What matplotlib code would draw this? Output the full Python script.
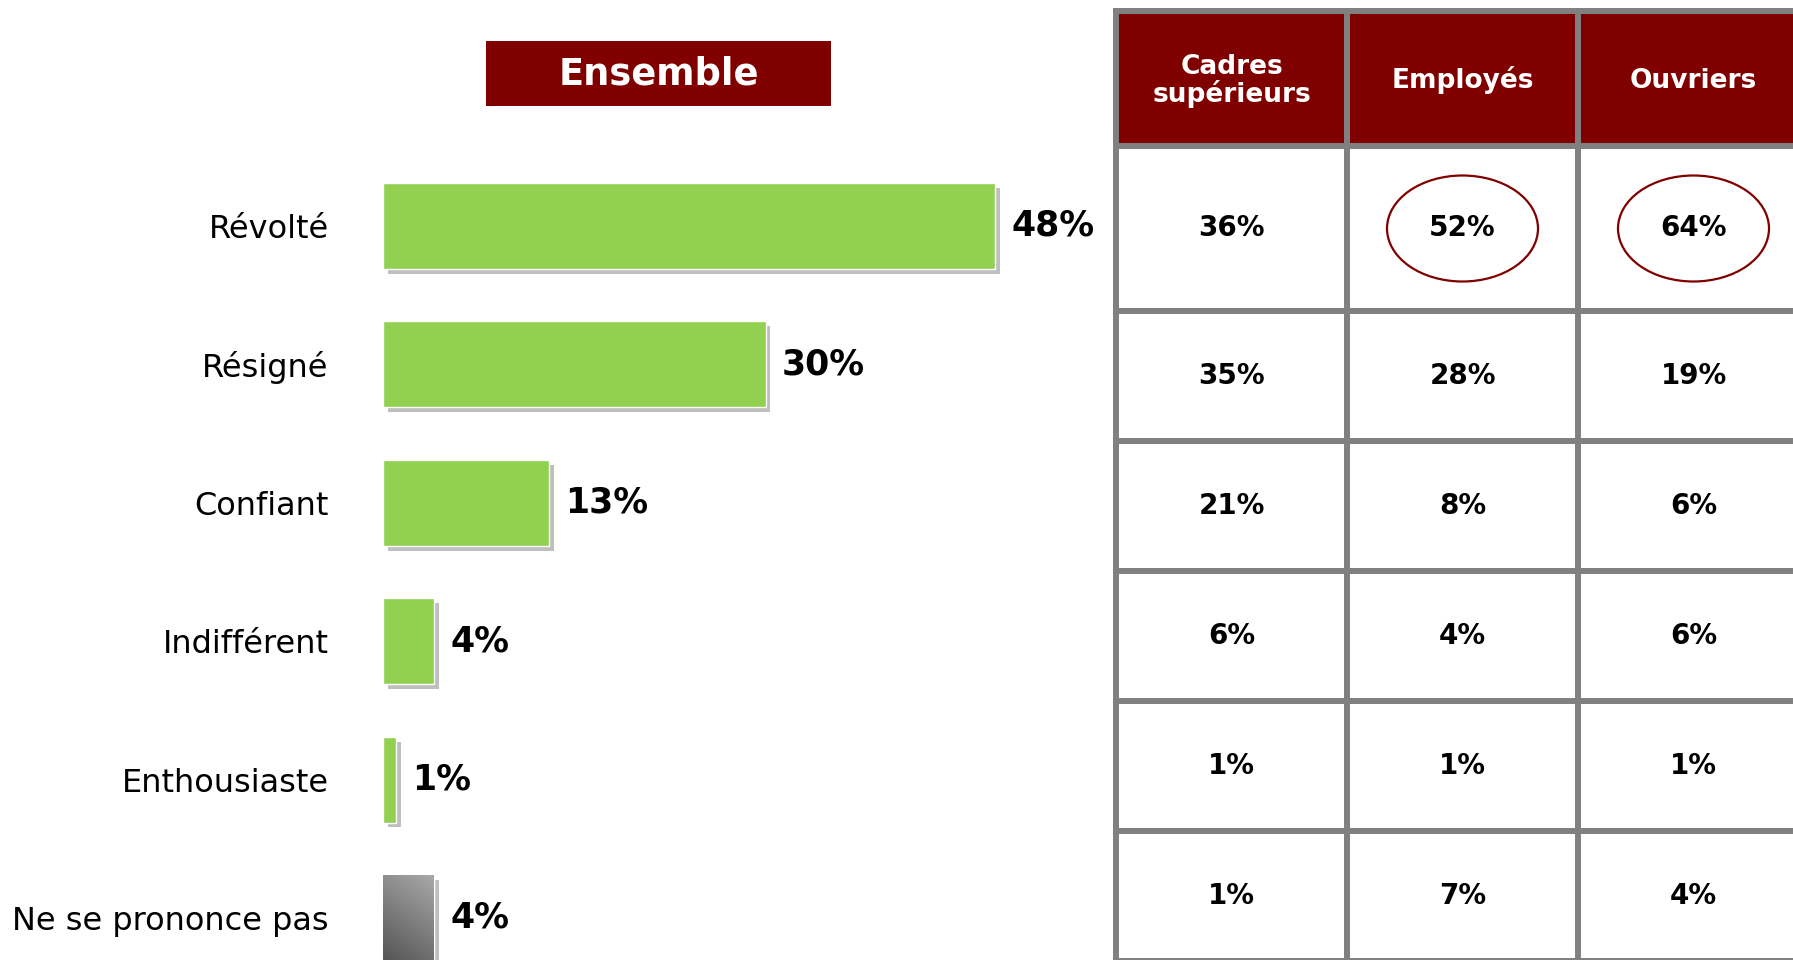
import numpy as np
import matplotlib
matplotlib.use("Agg")
import matplotlib.pyplot as plt
import matplotlib.patheffects as pe
from matplotlib.patches import Rectangle, Ellipse

# données
categories = ["Révolté", "Résigné", "Confiant", "Indifférent", "Enthousiaste", "Ne se prononce pas"]
ensemble = [48, 30, 13, 4, 1, 4]
groupes = ["Cadres\nsupérieurs", "Employés", "Ouvriers"]
cadres = [36, 35, 21, 6, 1, 1]
employes = [52, 28, 8, 4, 1, 7]
ouvriers = [64, 19, 6, 6, 1, 4]
entoures = [(1, 0), (2, 0)]  # (colonne, ligne) cerclées

W, H = 1793, 960
ROUGE = "#800000"
VERT = "#92D050"
GRIS = "#808080"

fig = plt.figure(figsize=(W / 100, H / 100), dpi=100)
fig.patch.set_facecolor("white")

# calque en pixels pour le titre et le tableau
ax_o = fig.add_axes([0, 0, 1, 1])
ax_o.set_xlim(0, W)
ax_o.set_ylim(H, 0)
ax_o.axis("off")

# titre "Ensemble"
ax_o.add_patch(Rectangle((486, 41), 345, 65, facecolor=ROUGE, edgecolor="none"))
ax_o.text(658.5, 74, "Ensemble", color="white", fontsize=26.5, fontweight="bold",
          ha="center", va="center")

# tableau
x0, cw = 1116, 231
y_head, y_top = 146, 11
row_h = [165, 130, 130, 130, 130, 130]
y_lines = [y_head] + list(y_head + np.cumsum(row_h))
ax_o.add_patch(Rectangle((x0, y_top), cw * 3, y_head - y_top, facecolor=ROUGE, edgecolor="none"))
lw = 4.3
for y in [y_top] + y_lines:
    ax_o.plot([x0 - 3, x0 + cw * 3 + 3], [y, y], color=GRIS, lw=lw, solid_capstyle="butt")
for j in range(4):
    ax_o.plot([x0 + j * cw] * 2, [y_top - 3, y_lines[-1] + 3], color=GRIS, lw=lw,
              solid_capstyle="butt")

colonnes = [cadres, employes, ouvriers]
for j, (g, vals) in enumerate(zip(groupes, colonnes)):
    xc = x0 + j * cw + cw / 2
    ax_o.text(xc, (y_top + y_head) / 2 + 2, g, color="white", fontsize=19, fontweight="bold",
              ha="center", va="center", linespacing=1.0)
    for i, v in enumerate(vals):
        yc = (y_lines[i] + y_lines[i + 1]) / 2
        ax_o.text(xc, yc, f"{v}%", fontsize=20, fontweight="bold", ha="center", va="center")
        if (j, i) in entoures:
            ax_o.add_patch(Ellipse((xc, yc), 151, 106, facecolor="none", edgecolor=ROUGE, lw=1.6))

# barres
px_pct = 12.75
y_sp = 138.4
left_px, top_c = 383, 226
xmax = 60
ax = fig.add_axes([left_px / W, (H - (top_c + 5.3 * y_sp)) / H,
                   xmax * px_pct / W, 5.8 * y_sp / H])
ax.patch.set_alpha(0)
y = np.arange(len(categories))
couleurs = [VERT] * 5 + ["#909090"]
bars = ax.barh(y, ensemble, height=0.62, color=couleurs, edgecolor="white", lw=1.0,
               path_effects=[pe.SimplePatchShadow(offset=(3.5, -3.5), shadow_rgbFace="#bfbfbf", alpha=1),
                             pe.Normal()])
ax.set_xlim(0, xmax)
ax.set_ylim(5.3, -0.5)

# dégradé gris pour "Ne se prononce pas"
b = bars[-1]
bx, by, bw, bh = b.get_x(), b.get_y(), b.get_width(), b.get_height()
gx, gy = np.meshgrid(np.linspace(0, 1, 50), np.linspace(0, 1, 50))
grad = gy * 0.7 + (1 - gx) * 0.3
img = ax.imshow(grad, cmap=plt.matplotlib.colors.LinearSegmentedColormap.from_list("g", ["#a8a8a8", "#555555"]),
                extent=(bx, bx + bw, by + bh, by), aspect="auto", origin="upper", zorder=3)
img.set_clip_path(b)

for yi, v in zip(y, ensemble):
    ax.annotate(f"{v}%", (v, yi), xytext=(12, 0), textcoords="offset points",
                fontsize=25, fontweight="bold", ha="left", va="center")

ax.set_yticks(y)
ax.set_yticklabels(categories, fontsize=23)
ax.tick_params(axis="y", length=0, pad=39)
ax.set_xticks([])
for s in ax.spines.values():
    s.set_visible(False)

fig.savefig("out.png", dpi=100)
